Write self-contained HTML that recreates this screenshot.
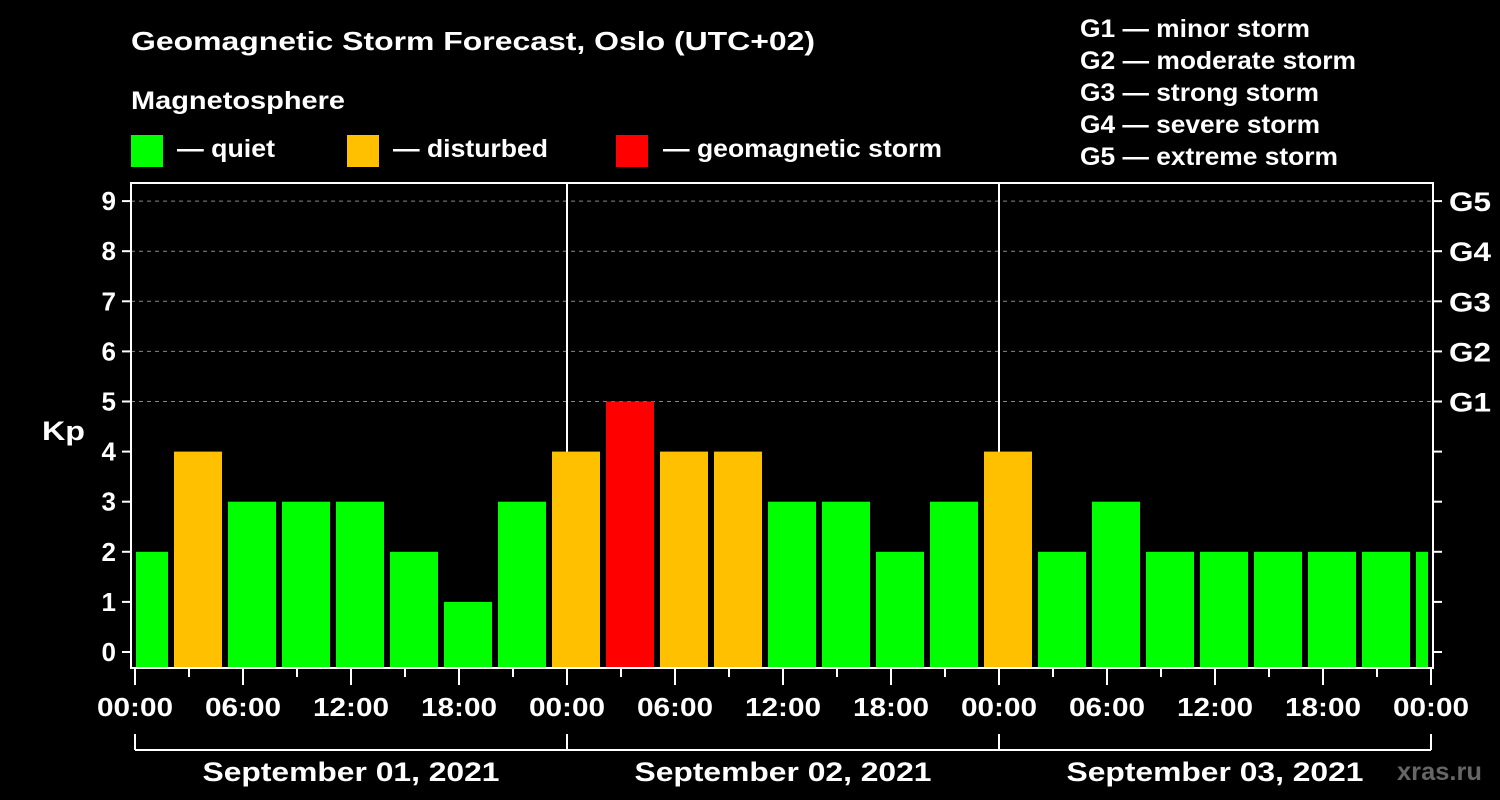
<!DOCTYPE html>
<html><head><meta charset="utf-8"><style>
html,body{margin:0;padding:0;background:#000;}
svg{display:block;font-family:"Liberation Sans",Arial,sans-serif;font-weight:bold;}
</style></head><body>
<svg id="chart" width="1500" height="800" viewBox="0 0 1500 800">
<rect x="0" y="0" width="1500" height="800" fill="#000"/>
<text x="131" y="50" fill="#fff" font-size="26" textLength="684" lengthAdjust="spacingAndGlyphs">Geomagnetic Storm Forecast, Oslo (UTC+02)</text>
<text x="131" y="109" fill="#fff" font-size="25" textLength="214" lengthAdjust="spacingAndGlyphs">Magnetosphere</text>
<g><rect x="131" y="135" width="32" height="32" fill="#00ff00"/><text x="177" y="157" fill="#fff" font-size="25" textLength="98" lengthAdjust="spacingAndGlyphs">— quiet</text></g>
<g><rect x="347" y="135" width="32" height="32" fill="#ffc000"/><text x="393" y="157" fill="#fff" font-size="25" textLength="155" lengthAdjust="spacingAndGlyphs">— disturbed</text></g>
<g><rect x="616" y="135" width="32" height="32" fill="#ff0000"/><text x="663" y="157" fill="#fff" font-size="25" textLength="279" lengthAdjust="spacingAndGlyphs">— geomagnetic storm</text></g>
<g fill="#fff" font-size="25">
<text x="1080" y="37" textLength="230" lengthAdjust="spacingAndGlyphs">G1 — minor storm</text>
<text x="1080" y="69" textLength="276" lengthAdjust="spacingAndGlyphs">G2 — moderate storm</text>
<text x="1080" y="101" textLength="239" lengthAdjust="spacingAndGlyphs">G3 — strong storm</text>
<text x="1080" y="133" textLength="240" lengthAdjust="spacingAndGlyphs">G4 — severe storm</text>
<text x="1080" y="165" textLength="258" lengthAdjust="spacingAndGlyphs">G5 — extreme storm</text>
</g>
<text x="42" y="440" fill="#fff" font-size="27" textLength="43" lengthAdjust="spacingAndGlyphs">Kp</text>
<text x="1397" y="780" fill="#666" font-size="25" textLength="85" lengthAdjust="spacingAndGlyphs">xras.ru</text>
<defs><clipPath id="pc"><rect x="136" y="180" width="1292" height="490"/></clipPath></defs>
<g id="grid"></g>
<g id="bars" clip-path="url(#pc)"></g>
<g id="axes"></g>
</svg>
<script>
const kpValues=[2,4,3,3,3,2,1,3,4,5,4,4,3,3,2,3,4,2,3,2,2,2,2,2,2];
const barStartHours=[-1,2,5,8,11,14,17,20,23,26,29,32,35,38,41,44,47,50,53,56,59,62,65,68,71];
const yTicks=[0,1,2,3,4,5,6,7,8,9];
const gLabels=["G1","G2","G3","G4","G5"];
const gLevels=[5,6,7,8,9];
const xTickLabels=["00:00","06:00","12:00","18:00","00:00","06:00","12:00","18:00","00:00","06:00","12:00","18:00","00:00"];
const dayLabels=["September 01, 2021","September 02, 2021","September 03, 2021"];
const NS="http://www.w3.org/2000/svg";
const X0=135,HPX=18,Y0=652,KPX=50.1;
const xs=h=>X0+h*HPX, ys=k=>Y0-k*KPX;
function mk(t,a,p){const e=document.createElementNS(NS,t);for(const k in a)e.setAttribute(k,a[k]);p.appendChild(e);return e;}
const grid=document.getElementById('grid'),bars=document.getElementById('bars'),axes=document.getElementById('axes');
gLevels.forEach(v=>{const l=mk('line',{x1:131,x2:1433,y1:ys(v),y2:ys(v),stroke:'#888','stroke-dasharray':'4,4','stroke-width':1},grid);

});
[24,48].forEach(h=>{const l=mk('line',{x1:xs(h),x2:xs(h),y1:182,y2:668,stroke:'#fff','stroke-width':2},grid);

});
kpValues.forEach((v,i)=>{const c=v>=5?'#ff0000':v>=4?'#ffc000':'#00ff00';
const r=mk('rect',{x:xs(barStartHours[i])+3,y:ys(v),width:3*HPX-6,height:668-ys(v),fill:c},bars);

});
const f=mk('rect',{x:131,y:183,width:1302,height:485,fill:'none',stroke:'#fff','stroke-width':2},axes);


yTicks.forEach(v=>{mk('line',{x1:122,x2:131,y1:ys(v),y2:ys(v),stroke:'#fff','stroke-width':2},axes);
mk('line',{x1:1433,x2:1442,y1:ys(v),y2:ys(v),stroke:'#fff','stroke-width':2},axes);
const t=mk('text',{x:116,y:ys(v)+9,fill:'#fff','font-size':26,'text-anchor':'end'},axes);t.textContent=v;

});
gLevels.forEach((v,i)=>{const t=mk('text',{x:1449,y:ys(v)+10,fill:'#fff','font-size':27,textLength:42,lengthAdjust:'spacingAndGlyphs'},axes);t.textContent=gLabels[i];

});
for(let h=0;h<=72;h+=3){const maj=h%6===0;mk('line',{x1:xs(h),x2:xs(h),y1:669,y2:maj?685:677,stroke:'#fff','stroke-width':2},axes);}
xTickLabels.forEach((s,i)=>{const t=mk('text',{x:xs(i*6),y:716,fill:'#fff','font-size':26,'text-anchor':'middle',textLength:76,lengthAdjust:'spacingAndGlyphs'},axes);t.textContent=s;

});
mk('line',{x1:xs(0),x2:xs(72),y1:750,y2:750,stroke:'#fff','stroke-width':2},axes);
[0,24,48,72].forEach(h=>mk('line',{x1:xs(h),x2:xs(h),y1:734,y2:750,stroke:'#fff','stroke-width':2},axes));
dayLabels.forEach((s,i)=>{const t=mk('text',{x:xs(i*24+12),y:781,fill:'#fff','font-size':27,'text-anchor':'middle',textLength:297,lengthAdjust:'spacingAndGlyphs'},axes);t.textContent=s;

});
</script>
</body></html>
